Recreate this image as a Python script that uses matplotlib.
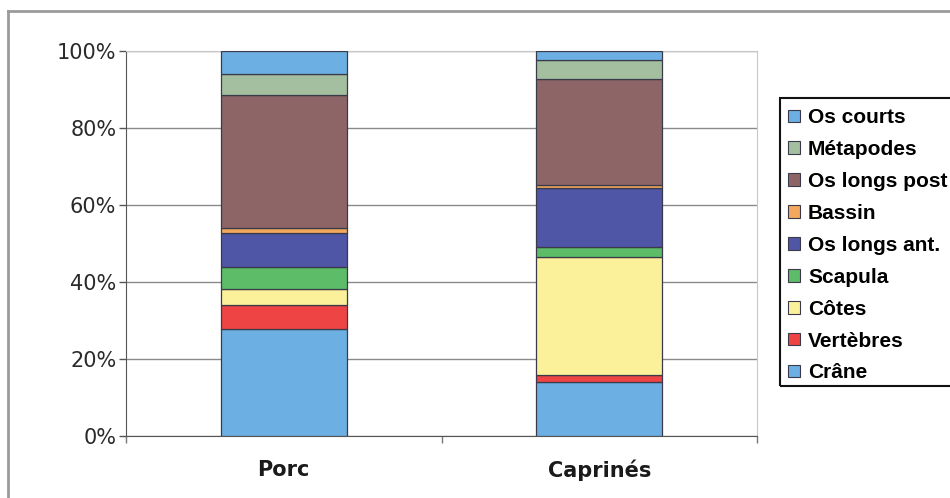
import matplotlib.pyplot as plt
import numpy as np
from matplotlib.lines import Line2D
from matplotlib.patches import Patch, Rectangle

# Skeletal part shares (%) per taxon, stacked bottom to top
groups = ['Porc', 'Caprinés']
parts = ['Crâne', 'Vertèbres', 'Côtes', 'Scapula', 'Os longs ant.',
         'Bassin', 'Os longs post', 'Métapodes', 'Os courts']
porc = [27.7, 6.3, 4.1, 5.8, 8.9, 1.3, 34.6, 5.2, 6.1]
caprines = [14.0, 1.9, 30.6, 2.6, 15.2, 1.0, 27.5, 4.8, 2.4]
colors = ['#6cafe2', '#ee4444', '#fbf19a', '#5cbc68', '#4f56a6',
          '#f3a95b', '#8d6566', '#a3bf9f', '#6cafe2']

values = np.array([porc, caprines])

fig = plt.figure(figsize=(9.5, 4.98), dpi=100)
ax = fig.add_axes([126 / 950, 1 - 436 / 498, (757 - 126) / 950, (436 - 51) / 498])

x = np.arange(len(groups))
bottom = np.zeros(len(groups))
for i, part in enumerate(parts):
    ax.bar(x, values[:, i], 0.4, bottom=bottom, color=colors[i],
           edgecolor='#3a3a4a', linewidth=0.9, zorder=3)
    bottom += values[:, i]

ax.set_xlim(-0.5, 1.5)
ax.set_ylim(0, 100)
ax.set_yticks(np.arange(0, 101, 20))
ax.set_yticklabels([f'{v}%' for v in range(0, 101, 20)],
                   fontsize=15, color='#2a2a2a', family='DejaVu Sans')
ax.yaxis.grid(True, color='#8a8a8a', linewidth=1.0, zorder=0)
ax.tick_params(axis='y', length=5, width=1, color='#555555', pad=2)

ax.set_xticks(x)
ax.set_xticklabels(groups, fontsize=15, color='#1a1a1a', fontweight='bold',
                   family='DejaVu Sans')
ax.tick_params(axis='x', length=0, pad=17)
ax.set_xticks([-0.5, 0.5, 1.5], minor=True)
ax.tick_params(axis='x', which='minor', length=5, width=1, color='#777777')

for side in ['top', 'right']:
    ax.spines[side].set_color('#c8c8c8')
ax.spines['left'].set_color('#555555')
ax.spines['bottom'].set_color('#555555')

# Legend, top entry first; the box runs off the right edge
handles = [Patch(facecolor=colors[i], edgecolor='#3a3a4a', linewidth=0.8)
           for i in range(len(parts))][::-1]
leg = fig.legend(handles, parts[::-1], loc='upper left',
                 bbox_to_anchor=(784 / 950, 1 - 104 / 498),
                 prop={'family': 'Liberation Sans', 'weight': 'bold', 'size': 15},
                 frameon=False, handlelength=0.55, handleheight=0.55,
                 handletextpad=0.4, labelspacing=0.62, borderpad=0.2,
                 borderaxespad=0)
fig.add_artist(Rectangle((780 / 950, 1 - 386 / 498), 200 / 950, 288 / 498,
                         transform=fig.transFigure, fill=False,
                         edgecolor='#111111', linewidth=1.5))

# Outer frame
fig.add_artist(Line2D([8 / 950, 1], [1 - 11 / 498, 1 - 11 / 498],
                      color='#9a9a9a', linewidth=2, transform=fig.transFigure))
fig.add_artist(Line2D([8 / 950, 8 / 950], [0, 1 - 11 / 498],
                      color='#9a9a9a', linewidth=2, transform=fig.transFigure))

fig.savefig('out.png', dpi=100)
